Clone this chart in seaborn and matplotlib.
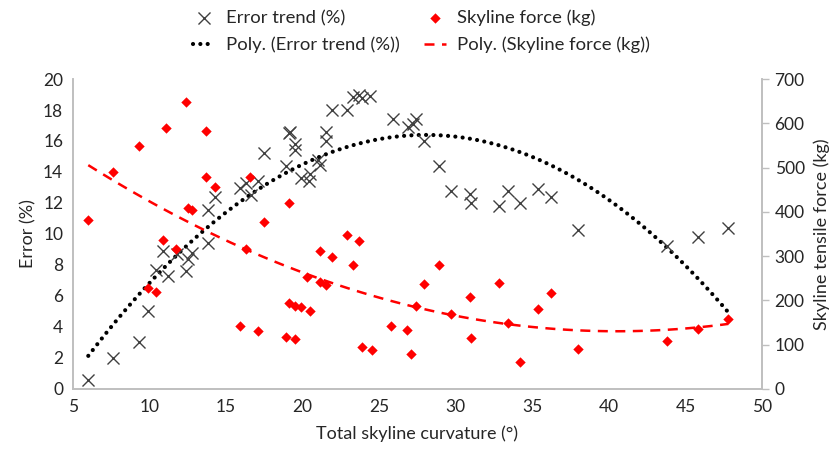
import matplotlib
matplotlib.use("Agg")
import matplotlib.pyplot as plt
import seaborn as sns

# --- data ---
err_x = [6.0, 7.6, 9.3, 9.9, 10.4, 11.2, 10.9, 11.8, 12.4, 12.5,
         12.8, 13.8, 13.8, 14.3, 15.9, 16.3, 16.6, 17.1, 17.5, 18.9,
         19.1, 19.2, 19.5, 19.5, 19.9, 20.4, 20.5, 21.0, 21.1, 21.5,
         21.5, 21.9, 22.9, 23.3, 23.7, 23.9, 24.4, 25.9, 26.9, 27.2,
         27.4, 27.9, 28.9, 29.7, 30.9, 31.0, 32.8, 33.4, 34.2, 35.4,
         36.2, 38.0, 43.8, 45.8, 47.8]
err_y = [0.6, 2.0, 3.0, 5.0, 7.7, 7.3, 8.9, 8.7, 7.6, 8.4,
         8.75, 9.4, 11.55, 12.4, 12.95, 13.3, 12.5, 13.4, 15.2, 14.4,
         16.5, 16.6, 15.8, 15.4, 13.6, 13.4, 13.9, 14.8, 14.45, 16.6,
         16.0, 18.0, 18.0, 18.85, 19.0, 18.75, 18.9, 17.45, 16.9, 17.1,
         17.4, 16.0, 14.4, 12.8, 12.6, 12.0, 11.8, 12.8, 12.0, 12.9,
         12.4, 10.25, 9.25, 9.8, 10.4]

force_x = [6.0, 7.6, 9.3, 9.9, 10.4, 10.9, 11.1, 11.75, 12.4, 12.5,
           12.75, 13.7, 13.7, 14.3, 15.9, 16.3, 16.55, 17.1, 17.5, 18.9,
           19.1, 19.1, 19.5, 19.5, 19.9, 20.3, 20.5, 21.1, 21.1, 21.5,
           21.9, 22.9, 23.3, 23.7, 23.9, 24.5, 25.8, 26.8, 27.1, 27.4,
           27.9, 28.9, 29.7, 30.9, 31.0, 32.8, 33.4, 34.2, 35.4, 36.2,
           38.0, 43.8, 45.8, 47.8]
force_kg = [382, 491, 549, 227, 219, 337, 589, 315, 649, 408,
            404, 583, 479, 455, 142, 315, 479, 132, 376, 118,
            419, 195, 112, 187, 185, 252, 176, 311, 241, 235,
            297, 347, 280, 334, 94, 88, 142, 133, 79, 187,
            236, 279, 169, 208, 115, 240, 150, 60, 181, 217,
            90, 109, 135, 157]

x_ticks = list(range(5, 51, 5))
err_ticks = list(range(0, 21, 2))
force_ticks = list(range(0, 701, 100))

# --- style ---
sns.set_theme(style="white")
plt.rcParams['font.family'] = ['Lato', 'DejaVu Sans']
text_col = '#262626'
spine_col = '#BFBFBF'

fig = plt.figure(figsize=(8.33, 4.58), dpi=100)
ax = fig.add_axes([0.0876, 0.1507, 0.8272, 0.6768])
ax2 = ax.twinx()

# error trend points + quadratic fit
sns.scatterplot(x=err_x, y=err_y, ax=ax, marker='x', s=75, color='#404040',
                linewidth=1.0, label='Error trend (%)', legend=False, zorder=3)
sns.regplot(x=err_x, y=err_y, ax=ax, order=2, ci=None, scatter=False,
            label='Poly. (Error trend (%))',
            line_kws=dict(color='black', lw=3.0, linestyle=(0, (0.01, 1.75)),
                          dash_capstyle='round'))

# skyline force points + quadratic fit
sns.scatterplot(x=force_x, y=force_kg, ax=ax2, marker='D', s=28, color='#FF0000',
                linewidth=0, label='Skyline force (kg)', legend=False, zorder=3)
sns.regplot(x=force_x, y=force_kg, ax=ax2, order=2, ci=None, scatter=False,
            label='Poly. (Skyline force (kg))',
            line_kws=dict(color='#FF0000', lw=1.8, linestyle=(0, (4, 3))))

ax.set_xlim(5, 50)
ax.set_ylim(0, 20)
ax2.set_ylim(0, 700)
ax.set_xticks(x_ticks)
ax.set_yticks(err_ticks)
ax2.set_yticks(force_ticks)

ax.set_xlabel('Total skyline curvature (°)', fontsize=13, color=text_col, labelpad=8)
ax.set_ylabel('Error (%)', fontsize=13, color=text_col, labelpad=5)
ax2.set_ylabel('Skyline tensile force (kg)', fontsize=13, color=text_col, labelpad=6)

for a in (ax, ax2):
    a.spines['top'].set_visible(False)
    for side in ('left', 'bottom', 'right'):
        a.spines[side].set_color(spine_col)
        a.spines[side].set_linewidth(1.2)
    a.tick_params(labelsize=12.5, colors=text_col, length=0, pad=7)
ax2.tick_params(axis='y', length=5, width=1, color=spine_col, pad=4)
ax.grid(False)
ax2.grid(False)

# legend above the plot
h1, l1 = ax.get_legend_handles_labels()
h2, l2 = ax2.get_legend_handles_labels()
lookup = dict(zip(l1 + l2, h1 + h2))
order = ['Error trend (%)', 'Poly. (Error trend (%))',
         'Skyline force (kg)', 'Poly. (Skyline force (kg))']
leg = fig.legend([lookup[k] for k in order], order, ncol=2, loc='upper center',
                 bbox_to_anchor=(0.506, 1.015), frameon=False, fontsize=13.3,
                 handlelength=1.2, columnspacing=1.3, labelspacing=0.55,
                 handletextpad=0.6)
for t in leg.get_texts():
    t.set_color(text_col)

fig.savefig('out.png', dpi=100)
